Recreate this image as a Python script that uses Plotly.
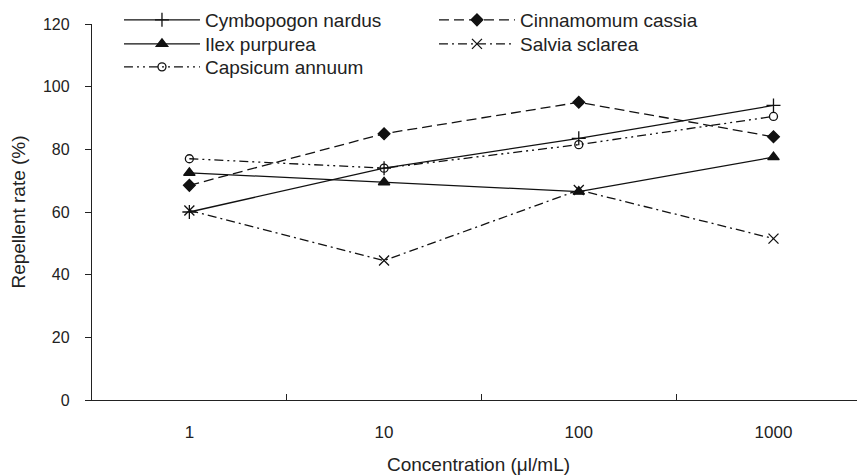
import plotly.graph_objects as go

concentrations = ["1", "10", "100", "1000"]
cymbopogon = [60, 74, 83.5, 94]
cinnamomum = [68.5, 85, 95, 84]
ilex = [72.5, 69.5, 66.5, 77.5]
salvia = [60.5, 44.5, 67, 51.5]
capsicum = [77, 74, 81.5, 90.5]
y_ticks = [0, 20, 40, 60, 80, 100, 120]

series = [
    ("Cymbopogon nardus", cymbopogon, "solid", "cross-thin-open", 10, "legend"),
    ("Cinnamomum cassia", cinnamomum, "10px,5px", "diamond", 9, "legend"),
    ("Ilex purpurea", ilex, "solid", "triangle-up", 10, "legend2"),
    ("Salvia sclarea", salvia, "9px,4px,2px,4px", "x-thin-open", 10, "legend2"),
    ("Capsicum annuum", capsicum, "9px,4px,2px,4px,2px,4px", "circle-open", 8, "legend3"),
]

fig = go.Figure()
for name, vals, dash, sym, sz, lg in series:
    fig.add_trace(go.Scatter(
        x=concentrations, y=vals, name=name, mode="lines+markers",
        line=dict(color="#111111", width=1.3, dash=dash),
        marker=dict(symbol=sym, size=sz, color="#111111",
                    line=dict(color="#111111", width=1.3)),
        legend=lg,
    ))

font = "Liberation Sans, Arial, sans-serif"


def legend_row(y):
    return dict(
        orientation="h", x=0.0349, y=y, xanchor="left", yanchor="middle",
        entrywidth=224, itemwidth=76, tracegroupgap=0,
        font=dict(size=19, family=font, color="#222222"),
        bgcolor="rgba(0,0,0,0)",
    )


fig.update_layout(
    width=857, height=467,
    margin=dict(l=84, r=0, t=16, b=75, autoexpand=False),
    paper_bgcolor="white", plot_bgcolor="white",
    font=dict(family=font, size=16, color="#222222"),
    showlegend=True,
    legend=legend_row(1.0106),
    legend2=legend_row(0.9468),
    legend3=legend_row(0.8856),
    xaxis=dict(
        type="category", range=[-0.5, 3.47], tickson="boundaries",
        ticks="inside", ticklen=6, tickcolor="#222", tickwidth=1.2,
        showline=True, linecolor="#222", linewidth=1.3, showgrid=False,
        zeroline=False, ticklabelstandoff=16, automargin=False,
        tickfont=dict(size=17),
        title=dict(text="Concentration (μl/mL)", font=dict(size=19), standoff=24),
    ),
    yaxis=dict(
        range=[0, 120], tickvals=y_ticks, ticks="outside", ticklen=6,
        tickcolor="#222", tickwidth=1.2, showline=True, linecolor="#222",
        linewidth=1.3, showgrid=False, zeroline=False, ticklabelstandoff=12,
        automargin=False, tickfont=dict(size=16),
        title=dict(text="Repellent rate (%)", font=dict(size=19), standoff=12),
    ),
)

fig.write_html("out.html")
